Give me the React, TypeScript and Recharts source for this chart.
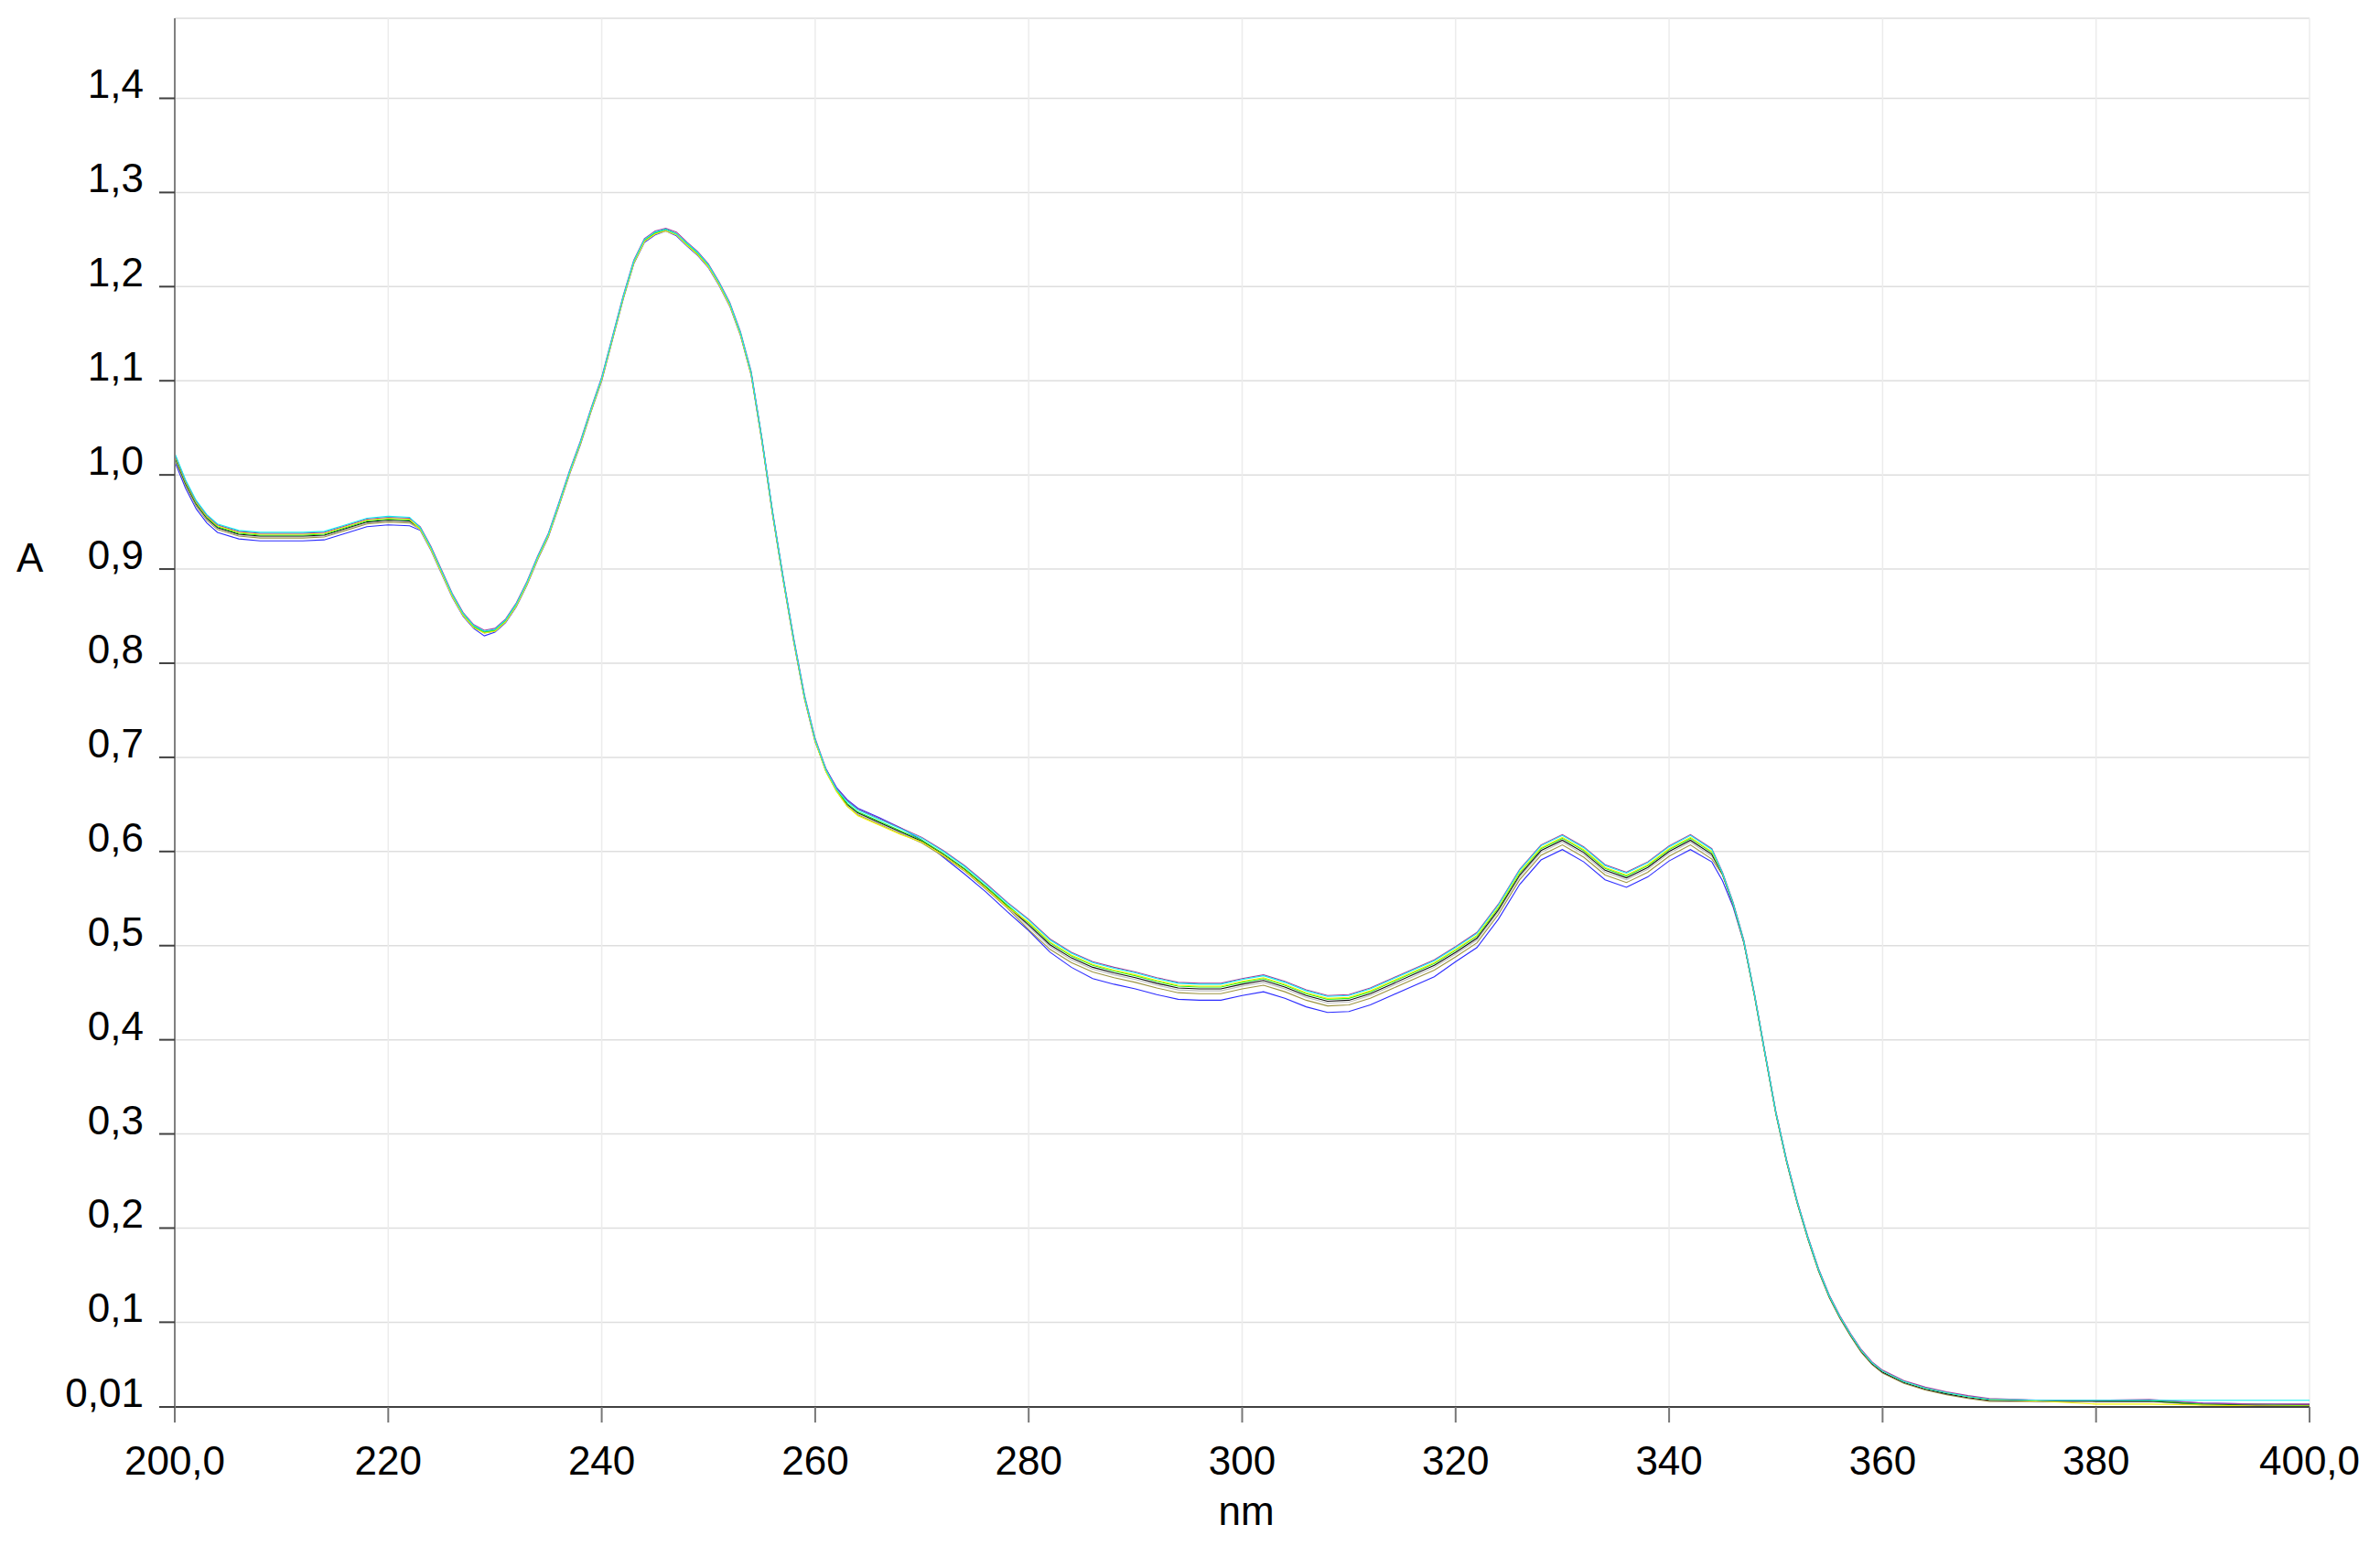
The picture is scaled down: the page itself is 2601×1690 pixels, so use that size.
import { LineChart, Line, XAxis, YAxis, CartesianGrid } from "recharts";

// wavelength grid (nm), denser where the spectra bend quickly
const WAVELENGTHS = [
  200, 201, 202, 203, 204, 206, 208, 210, 212, 214, 216, 218, 220, 222,
  223, 224, 225, 226, 227, 228, 229, 230, 231, 232, 233, 234, 235, 236, 237, 238, 239, 240,
  241, 242, 243, 244, 245, 246, 247, 248, 249, 250, 251, 252, 253, 254, 255, 256, 257, 258,
  259, 260, 261, 262,
  263, 264, 266, 268, 270, 272, 274, 276, 278,
  280, 282, 284, 286, 288, 290, 292, 294, 296, 298, 300, 302, 304, 306, 308, 310, 312, 314,
  316, 318, 320, 322, 324, 326, 328, 330, 332, 334, 336, 338, 340, 342, 344,
  345, 346, 347, 348, 349, 350, 351, 352, 353, 354, 355, 356, 357, 358, 359, 360, 362, 364,
  366, 368,
  370, 375, 380, 385, 390, 395, 400,
];

const PURPLE = [
  1.022, 0.994, 0.972, 0.957, 0.947, 0.940, 0.938, 0.938, 0.938, 0.939, 0.946, 0.953, 0.955, 0.954,
  0.945, 0.924, 0.899, 0.874, 0.854, 0.841, 0.835, 0.837, 0.847, 0.864, 0.887, 0.914, 0.938, 0.971, 1.005, 1.036, 1.071, 1.104,
  1.147, 1.190, 1.228, 1.251, 1.259, 1.262, 1.258, 1.247, 1.237, 1.224, 1.205, 1.183, 1.152, 1.110, 1.040, 0.962, 0.892, 0.826,
  0.766, 0.720, 0.688, 0.667,
  0.654, 0.645, 0.635, 0.625, 0.615, 0.601, 0.585, 0.566, 0.546,
  0.528, 0.507, 0.493, 0.483, 0.477, 0.472, 0.466, 0.461, 0.460, 0.460, 0.465, 0.469, 0.462, 0.453, 0.447, 0.448, 0.455, 0.465,
  0.475, 0.485, 0.499, 0.514, 0.544, 0.581, 0.607, 0.618, 0.605, 0.586, 0.578, 0.589, 0.606, 0.618, 0.603,
  0.578, 0.546, 0.506, 0.449, 0.386, 0.324, 0.273, 0.229, 0.191, 0.157, 0.129, 0.107, 0.088, 0.071, 0.058, 0.049, 0.038, 0.031,
  0.026, 0.022,
  0.019, 0.017, 0.017, 0.018, 0.014, 0.013, 0.013,
];

const CYAN = [
  1.023, 0.995, 0.973, 0.958, 0.948, 0.941, 0.939, 0.939, 0.939, 0.940, 0.947, 0.954, 0.956, 0.955,
  0.944, 0.923, 0.898, 0.873, 0.853, 0.840, 0.834, 0.836, 0.846, 0.863, 0.886, 0.913, 0.937, 0.970, 1.004, 1.035, 1.070, 1.103,
  1.146, 1.189, 1.227, 1.250, 1.258, 1.261, 1.256, 1.246, 1.236, 1.223, 1.204, 1.182, 1.151, 1.109, 1.039, 0.961, 0.891, 0.825,
  0.765, 0.719, 0.687, 0.666,
  0.653, 0.644, 0.634, 0.624, 0.614, 0.600, 0.584, 0.565, 0.545,
  0.527, 0.506, 0.492, 0.482, 0.476, 0.471, 0.465, 0.460, 0.459, 0.459, 0.464, 0.468, 0.461, 0.452, 0.446, 0.447, 0.454, 0.464,
  0.474, 0.484, 0.498, 0.513, 0.543, 0.580, 0.606, 0.617, 0.604, 0.585, 0.577, 0.588, 0.605, 0.617, 0.602,
  0.577, 0.545, 0.505, 0.448, 0.385, 0.323, 0.272, 0.228, 0.190, 0.156, 0.128, 0.106, 0.087, 0.070, 0.057, 0.048, 0.037, 0.030,
  0.025, 0.021,
  0.018, 0.017, 0.017, 0.017, 0.017, 0.017, 0.017,
];

const YELLOW = [
  1.021, 0.993, 0.971, 0.956, 0.946, 0.939, 0.937, 0.937, 0.937, 0.938, 0.945, 0.952, 0.954, 0.953,
  0.942, 0.921, 0.896, 0.871, 0.851, 0.838, 0.832, 0.834, 0.844, 0.861, 0.884, 0.911, 0.935, 0.968, 1.002, 1.033, 1.068, 1.101,
  1.144, 1.187, 1.225, 1.248, 1.256, 1.259, 1.255, 1.244, 1.234, 1.221, 1.202, 1.180, 1.149, 1.107, 1.037, 0.959, 0.889, 0.823,
  0.763, 0.717, 0.685, 0.664,
  0.648, 0.638, 0.628, 0.618, 0.610, 0.596, 0.580, 0.561, 0.541,
  0.525, 0.504, 0.490, 0.480, 0.474, 0.469, 0.463, 0.458, 0.457, 0.457, 0.462, 0.466, 0.459, 0.450, 0.444, 0.445, 0.452, 0.462,
  0.472, 0.482, 0.496, 0.511, 0.541, 0.578, 0.604, 0.615, 0.602, 0.583, 0.575, 0.586, 0.603, 0.615, 0.600,
  0.577, 0.545, 0.505, 0.448, 0.385, 0.323, 0.272, 0.228, 0.190, 0.156, 0.128, 0.106, 0.087, 0.070, 0.057, 0.048, 0.037, 0.030,
  0.025, 0.021,
  0.018, 0.016, 0.013, 0.013, 0.012, 0.011, 0.011,
];

const GREEN = [
  1.020, 0.992, 0.970, 0.955, 0.945, 0.938, 0.936, 0.936, 0.936, 0.937, 0.944, 0.951, 0.953, 0.952,
  0.943, 0.922, 0.897, 0.872, 0.852, 0.839, 0.833, 0.835, 0.845, 0.862, 0.885, 0.912, 0.936, 0.969, 1.003, 1.034, 1.069, 1.102,
  1.145, 1.188, 1.226, 1.249, 1.257, 1.261, 1.256, 1.245, 1.235, 1.222, 1.203, 1.181, 1.150, 1.108, 1.038, 0.960, 0.890, 0.824,
  0.764, 0.718, 0.686, 0.665,
  0.651, 0.642, 0.632, 0.622, 0.612, 0.598, 0.582, 0.563, 0.543,
  0.524, 0.503, 0.489, 0.479, 0.473, 0.468, 0.462, 0.457, 0.456, 0.456, 0.461, 0.465, 0.458, 0.449, 0.443, 0.444, 0.451, 0.461,
  0.471, 0.481, 0.495, 0.510, 0.540, 0.577, 0.603, 0.614, 0.601, 0.582, 0.574, 0.585, 0.602, 0.614, 0.599,
  0.577, 0.545, 0.505, 0.448, 0.385, 0.323, 0.272, 0.228, 0.190, 0.156, 0.128, 0.106, 0.087, 0.070, 0.057, 0.048, 0.037, 0.030,
  0.025, 0.021,
  0.018, 0.017, 0.017, 0.017, 0.013, 0.013, 0.011,
];

const BLACK = [
  1.019, 0.991, 0.969, 0.954, 0.944, 0.937, 0.935, 0.935, 0.935, 0.936, 0.943, 0.950, 0.952, 0.951,
  0.943, 0.922, 0.897, 0.872, 0.852, 0.839, 0.833, 0.835, 0.845, 0.862, 0.885, 0.912, 0.936, 0.969, 1.003, 1.034, 1.069, 1.102,
  1.145, 1.188, 1.226, 1.249, 1.257, 1.261, 1.256, 1.245, 1.235, 1.222, 1.203, 1.181, 1.150, 1.108, 1.038, 0.960, 0.890, 0.824,
  0.764, 0.718, 0.686, 0.665,
  0.650, 0.641, 0.631, 0.621, 0.611, 0.597, 0.581, 0.562, 0.542,
  0.522, 0.501, 0.487, 0.477, 0.471, 0.466, 0.460, 0.455, 0.454, 0.454, 0.459, 0.463, 0.456, 0.447, 0.441, 0.442, 0.449, 0.459,
  0.469, 0.479, 0.493, 0.508, 0.538, 0.575, 0.601, 0.612, 0.599, 0.580, 0.572, 0.583, 0.600, 0.612, 0.597,
  0.576, 0.544, 0.504, 0.447, 0.384, 0.322, 0.271, 0.227, 0.189, 0.155, 0.127, 0.105, 0.086, 0.069, 0.056, 0.047, 0.036, 0.029,
  0.024, 0.020,
  0.017, 0.016, 0.016, 0.016, 0.013, 0.012, 0.012,
];

const GRAY = [
  1.018, 0.990, 0.968, 0.953, 0.943, 0.936, 0.934, 0.934, 0.934, 0.935, 0.942, 0.949, 0.951, 0.950,
  0.942, 0.921, 0.896, 0.871, 0.851, 0.838, 0.832, 0.834, 0.844, 0.861, 0.884, 0.911, 0.935, 0.968, 1.002, 1.033, 1.068, 1.101,
  1.144, 1.187, 1.225, 1.248, 1.256, 1.260, 1.255, 1.244, 1.234, 1.221, 1.202, 1.180, 1.149, 1.107, 1.037, 0.959, 0.889, 0.823,
  0.763, 0.717, 0.685, 0.664,
  0.649, 0.640, 0.630, 0.620, 0.610, 0.596, 0.580, 0.561, 0.541,
  0.520, 0.499, 0.485, 0.475, 0.469, 0.464, 0.458, 0.453, 0.452, 0.452, 0.457, 0.461, 0.454, 0.445, 0.439, 0.440, 0.447, 0.457,
  0.467, 0.477, 0.491, 0.506, 0.536, 0.573, 0.599, 0.610, 0.597, 0.578, 0.570, 0.581, 0.598, 0.610, 0.595,
  0.576, 0.544, 0.504, 0.447, 0.384, 0.322, 0.271, 0.227, 0.189, 0.155, 0.127, 0.105, 0.086, 0.069, 0.056, 0.047, 0.036, 0.029,
  0.024, 0.020,
  0.017, 0.016, 0.016, 0.016, 0.013, 0.013, 0.013,
];

const OLIVE = [
  1.017, 0.989, 0.967, 0.952, 0.942, 0.935, 0.933, 0.933, 0.933, 0.934, 0.941, 0.948, 0.950, 0.949,
  0.942, 0.921, 0.896, 0.871, 0.851, 0.838, 0.832, 0.834, 0.844, 0.861, 0.884, 0.911, 0.935, 0.968, 1.002, 1.033, 1.068, 1.101,
  1.144, 1.187, 1.225, 1.248, 1.256, 1.260, 1.255, 1.244, 1.234, 1.221, 1.202, 1.180, 1.149, 1.107, 1.037, 0.959, 0.889, 0.823,
  0.763, 0.717, 0.685, 0.664,
  0.648, 0.639, 0.629, 0.619, 0.609, 0.595, 0.579, 0.560, 0.540,
  0.517, 0.496, 0.482, 0.472, 0.466, 0.461, 0.455, 0.450, 0.449, 0.449, 0.454, 0.458, 0.451, 0.442, 0.436, 0.437, 0.444, 0.454,
  0.464, 0.474, 0.488, 0.503, 0.533, 0.570, 0.596, 0.607, 0.594, 0.575, 0.567, 0.578, 0.595, 0.607, 0.592,
  0.575, 0.543, 0.503, 0.446, 0.383, 0.321, 0.270, 0.226, 0.188, 0.154, 0.126, 0.104, 0.085, 0.068, 0.055, 0.046, 0.035, 0.028,
  0.023, 0.019,
  0.016, 0.016, 0.016, 0.016, 0.012, 0.012, 0.012,
];

const BLUE = [
  1.014, 0.986, 0.964, 0.949, 0.939, 0.932, 0.930, 0.930, 0.930, 0.931, 0.938, 0.945, 0.947, 0.946,
  0.941, 0.920, 0.895, 0.870, 0.850, 0.837, 0.829, 0.833, 0.843, 0.860, 0.883, 0.910, 0.934, 0.967, 1.001, 1.032, 1.067, 1.100,
  1.143, 1.186, 1.224, 1.247, 1.255, 1.259, 1.254, 1.243, 1.233, 1.220, 1.201, 1.179, 1.148, 1.106, 1.036, 0.958, 0.888, 0.822,
  0.762, 0.716, 0.688, 0.668,
  0.655, 0.646, 0.636, 0.625, 0.612, 0.594, 0.576, 0.557, 0.536,
  0.516, 0.493, 0.477, 0.465, 0.459, 0.454, 0.448, 0.443, 0.442, 0.442, 0.447, 0.451, 0.444, 0.435, 0.429, 0.430, 0.437, 0.447,
  0.457, 0.467, 0.483, 0.498, 0.528, 0.565, 0.591, 0.602, 0.589, 0.570, 0.562, 0.573, 0.590, 0.602, 0.589,
  0.569, 0.541, 0.503, 0.448, 0.385, 0.323, 0.272, 0.228, 0.190, 0.156, 0.128, 0.106, 0.087, 0.070, 0.057, 0.048, 0.037, 0.030,
  0.025, 0.021,
  0.018, 0.017, 0.017, 0.017, 0.014, 0.013, 0.013,
];

const X_TICKS = [200, 220, 240, 260, 280, 300, 320, 340, 360, 380, 400];
const Y_TICKS = [0.01, 0.1, 0.2, 0.3, 0.4, 0.5, 0.6, 0.7, 0.8, 0.9, 1.0, 1.1, 1.2, 1.3, 1.4];

// drawn in this order, cyan ends up on top
const SERIES = [
  { key: "blue", color: "#2b2bff", values: BLUE },
  { key: "olive", color: "#9c9440", values: OLIVE },
  { key: "gray", color: "#bdbdbd", values: GRAY },
  { key: "black", color: "#111111", values: BLACK },
  { key: "green", color: "#22ee22", values: GREEN },
  { key: "yellow", color: "#f4f400", values: YELLOW },
  { key: "purple", color: "#a03ca0", values: PURPLE },
  { key: "cyan", color: "#11f0f0", values: CYAN },
];

const FONT = "'Liberation Sans', Arial, sans-serif";

const data = WAVELENGTHS.map((nm, i) => {
  const row: Record<string, number> = { nm };
  SERIES.forEach((s) => {
    row[s.key] = s.values[i];
  });
  return row;
});

const formatY = (v: number) => (v === 0.01 ? "0,01" : v.toFixed(1).replace(".", ","));
const formatX = (v: number) => (v === 200 || v === 400 ? `${v},0` : String(v));

function YTick({ x, y, payload }: any) {
  return (
    <text x={x} y={y} textAnchor="end" fill="#000" fontSize={44} fontFamily={FONT}>
      {formatY(payload.value)}
    </text>
  );
}

function XTick({ x, y, payload }: any) {
  return (
    <text x={x} y={y} textAnchor="middle" fill="#000" fontSize={44} fontFamily={FONT}>
      {formatX(payload.value)}
    </text>
  );
}

export default function App() {
  return (
    <div
      style={{
        position: "absolute",
        left: 0,
        top: 0,
        width: 2601,
        height: 1690,
        background: "#fff",
        fontFamily: FONT,
      }}
    >
      <LineChart
        width={2601}
        height={1690}
        data={data}
        margin={{ top: 20, right: 77, left: 0, bottom: 0 }}
      >
        <CartesianGrid vertical={false} stroke="#dedede" strokeWidth={1.5} />
        <CartesianGrid horizontal={false} stroke="#ececec" strokeWidth={1.5} />
        <XAxis
          dataKey="nm"
          type="number"
          domain={[200, 400]}
          ticks={X_TICKS}
          interval={0}
          height={152}
          tickSize={17}
          tickMargin={57}
          axisLine={{ stroke: "#404040", strokeWidth: 2 }}
          tickLine={{ stroke: "#777777", strokeWidth: 2 }}
          tick={<XTick />}
        />
        <YAxis
          type="number"
          domain={[0.01, 1.485]}
          ticks={Y_TICKS}
          interval={0}
          width={191}
          tickSize={17}
          tickMargin={17}
          axisLine={{ stroke: "#808080", strokeWidth: 2 }}
          tickLine={{ stroke: "#404040", strokeWidth: 2 }}
          tick={<YTick />}
        />
        {SERIES.map((s) => (
          <Line
            key={s.key}
            type="linear"
            dataKey={s.key}
            stroke={s.color}
            strokeWidth={1.1}
            dot={false}
            activeDot={false}
            isAnimationActive={false}
          />
        ))}
      </LineChart>
      <div style={{ position: "absolute", left: 18, top: 585, fontSize: 44, color: "#000" }}>A</div>
      <div
        style={{
          position: "absolute",
          left: 1262,
          width: 200,
          top: 1627,
          textAlign: "center",
          fontSize: 44,
          color: "#000",
        }}
      >
        nm
      </div>
    </div>
  );
}
